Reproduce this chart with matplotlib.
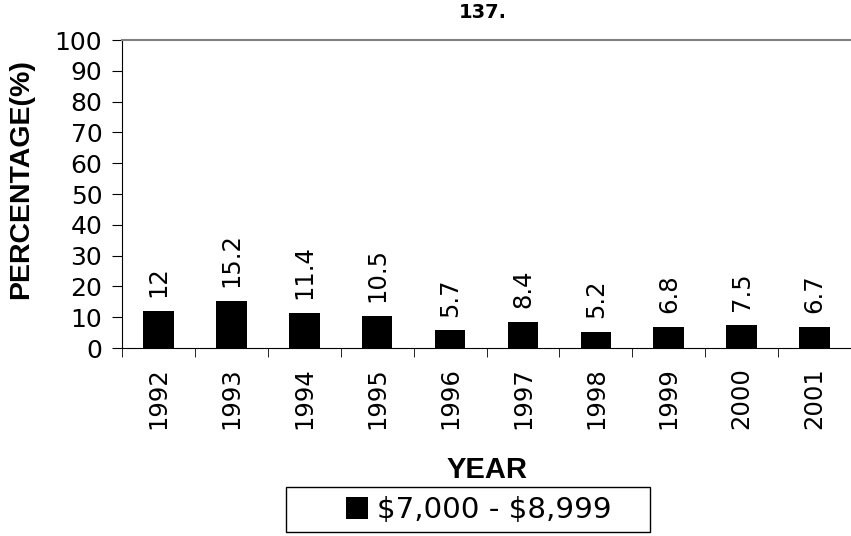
import matplotlib
matplotlib.use("Agg")
import matplotlib.pyplot as plt
from matplotlib.patches import Rectangle
import numpy as np

years = ["1992", "1993", "1994", "1995", "1996", "1997", "1998", "1999", "2000", "2001"]
values = [12, 15.2, 11.4, 10.5, 5.7, 8.4, 5.2, 6.8, 7.5, 6.7]
value_labels = ["12", "15.2", "11.4", "10.5", "5.7", "8.4", "5.2", "6.8", "7.5", "6.7"]
series_name = r"\$7,000 - \$8,999"

plt.rcParams['font.family'] = ['DejaVu Sans']

W, H = 851, 536
fig = plt.figure(figsize=(W/100, H/100), dpi=100)
ax = fig.add_axes([122/W, 1-348/H, 1-122/W, (348-40)/H])

x = np.arange(len(years))
ax.bar(x, values, width=0.42, color='black', label=series_name)

for xi, v, lab in zip(x, values, value_labels):
    ax.annotate(lab, (xi, v), xytext=(0, 10), textcoords='offset points',
                rotation=90, ha='center', va='bottom', fontsize=17.5)

ax.set_xlim(-0.5, len(years) - 0.5)
ax.set_ylim(0, 100)
ax.set_yticks(range(0, 101, 10))
ax.tick_params(axis='y', labelsize=18, length=7.2, direction='out', pad=7)
ax.set_xticks(x)
ax.set_xticklabels(years, rotation=90, fontsize=17.5)
ax.tick_params(axis='x', which='major', length=0, pad=14)
ax.set_xticks(np.arange(-0.5, len(years), 1), minor=True)
ax.tick_params(axis='x', which='minor', length=6.5, direction='out')

ax.spines['right'].set_visible(False)
ax.spines['top'].set_color('#808080')
ax.spines['top'].set_linewidth(1.5)

ax.set_ylabel('PERCENTAGE(%)', fontsize=20.5, fontweight='bold', family='Liberation Sans')
ax.yaxis.set_label_coords((34-122)/730, (348-179)/308)
ax.set_xlabel('YEAR', fontsize=21, fontweight='bold', family='Liberation Sans')
ax.xaxis.set_label_coords((488-122)/730, (348-456)/308)

fig.text(483/W, 1-12/H, '137.', fontsize=14, fontweight='bold',
         ha='center', va='center')

# legend box drawn Excel-style (text not centred in the frame)
fig.patches.append(Rectangle((286/W, 1-532/H), (650-286)/W, (532-487)/H,
                             transform=fig.transFigure, fill=False,
                             edgecolor='black', linewidth=1.0))
fig.legend(loc='center left', bbox_to_anchor=(346/W, 1-510/H), fontsize=21.2,
           frameon=False, handlelength=0.75, handleheight=0.75,
           handletextpad=0.3, borderpad=0, borderaxespad=0)

fig.savefig('out.png', dpi=100)
